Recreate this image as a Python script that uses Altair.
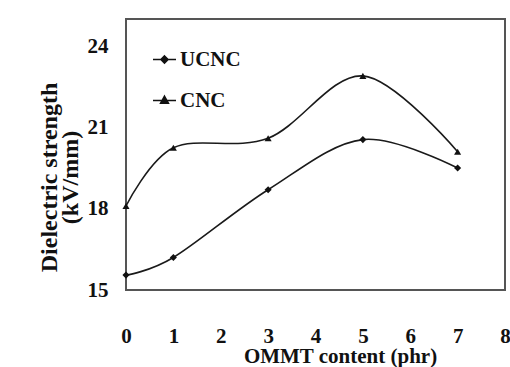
import altair as alt
import pandas as pd

# ---- data ----
x_phr = [0, 1, 3, 5, 7]
ucnc_vals = [15.55, 16.2, 18.7, 20.55, 19.5]
cnc_vals = [18.1, 20.25, 20.6, 22.9, 20.1]
series_names = ["UCNC", "CNC"]
x_ticks = [0, 1, 2, 3, 4, 5, 6, 7, 8]
y_ticks = [15, 18, 21, 24]
y_title_lines = ["Dielectric strength", "(kV/mm)"]

df = pd.DataFrame({
    "x": x_phr + x_phr,
    "y": ucnc_vals + cnc_vals,
    "series": [series_names[0]] * len(x_phr) + [series_names[1]] * len(x_phr),
})

FONT = "Liberation Serif"
INK = "#111111"
yscale = alt.Scale(domain=[15, 25], nice=False, zero=False)

xenc = alt.X(
    "x:Q",
    scale=alt.Scale(domain=[0, 8], nice=False, zero=False),
    axis=alt.Axis(
        values=x_ticks, format="d", domain=False, ticks=False, tickSize=0, grid=False,
        labelFont=FONT, labelFontSize=21, labelFontWeight="bold", labelColor=INK,
        labelPadding=35, labelFlush=False, labelOverlap=False,
        title="OMMT content (phr)", titleFont=FONT, titleFontSize=21,
        titleFontWeight="bold", titleColor=INK, titleX=214, titleY=72,
        titleBaseline="alphabetic", titleAlign="center",
    ),
)
y_main = alt.Y(
    "y:Q", scale=yscale,
    axis=alt.Axis(
        orient="left",
        values=y_ticks, format="d", domain=False, ticks=False, tickSize=0, grid=False,
        labelFont=FONT, labelFontSize=21, labelFontWeight="bold", labelColor=INK,
        labelPadding=18, labelFlush=False, labelOverlap=False,
        title=y_title_lines[0], titleFont=FONT, titleFontSize=24,
        titleFontWeight="bold", titleColor=INK,
        titleAngle=270, titleX=-77, titleY=158, titleAlign="center",
        titleBaseline="middle",
    ),
)
y_second = alt.Y(
    "y:Q", scale=yscale,
    axis=alt.Axis(
        orient="left",
        values=y_ticks, domain=False, ticks=False, tickSize=0, grid=False,
        labels=False,
        title=y_title_lines[1], titleFont=FONT, titleFontSize=24,
        titleFontWeight="bold", titleColor=INK,
        titleAngle=270, titleX=-56, titleY=158, titleAlign="center",
        titleBaseline="middle",
    ),
)

lines = alt.Chart(df).mark_line(
    interpolate="cardinal", color="#1a1a1a", strokeWidth=1.6
).encode(x=xenc, y=y_main, detail="series:N")

points = alt.Chart(df).mark_point(
    filled=True, size=50, color=INK, opacity=1
).encode(
    x="x:Q",
    y=y_second,
    shape=alt.Shape(
        "series:N",
        scale=alt.Scale(domain=series_names, range=["diamond", "triangle-up"]),
        legend=None,
    ),
)

# legend-only layer: no marks drawn (all rows filtered), symbols = line + marker
legend_paths = [
    "M-1,0H1M0,-0.3L0.3,0L0,0.3L-0.3,0ZM0,-0.15L0.15,0L0,0.15L-0.15,0Z",
    "M-1,0H1M0,-0.36L0.33,0.24L-0.33,0.24ZM0,-0.16L0.15,0.12L-0.15,0.12Z",
]
legend_layer = alt.Chart(df).transform_filter("false").mark_point(
    filled=False, color=INK, opacity=1, strokeWidth=1.6
).encode(
    x="x:Q",
    y=alt.Y("y:Q", scale=yscale, axis=None),
    shape=alt.Shape(
        "series:N",
        scale=alt.Scale(domain=series_names, range=legend_paths),
        legend=alt.Legend(
            title=None, orient="none", legendX=26, legendY=28, padding=0,
            rowPadding=18, symbolSize=529, symbolFillColor=INK,
            symbolStrokeColor=INK, symbolStrokeWidth=1.7, symbolOpacity=1,
            labelFont=FONT, labelFontSize=21, labelFontWeight="bold",
            labelColor=INK, labelOffset=3,
        ),
    ),
)

chart = (
    alt.layer(lines, points, legend_layer)
    .resolve_scale(shape="independent")
    .resolve_axis(y="independent")
    .properties(
        width=379, height=271,
        autosize=alt.AutoSizeParams(type="none"),
        padding={"left": 126, "top": 19, "right": 5, "bottom": 77},
        background="white",
    )
    .configure_view(stroke="#555555", strokeWidth=2)
)

chart.save("out.html", embed_options={"renderer": "svg", "actions": False})
